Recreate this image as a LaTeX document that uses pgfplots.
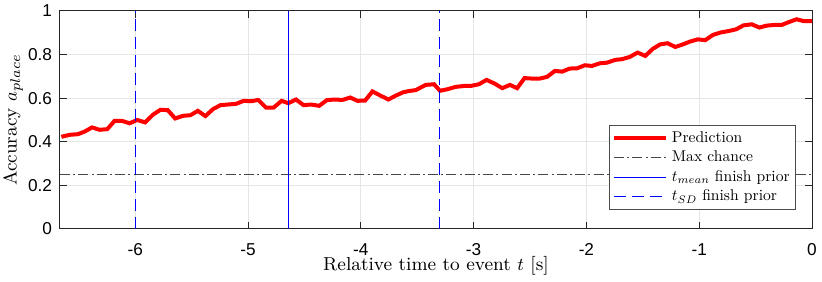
\documentclass[border=0pt]{standalone}
\usepackage{graphicx}
\usepackage{pgfplots}
\pgfplotsset{compat=1.18}
\usepackage{fontspec}
\newfontfamily\tickfont{Liberation Sans}
\definecolor{mblue}{RGB}{0,0,255}
\definecolor{mred}{RGB}{255,0,0}
\definecolor{mgray}{RGB}{70,70,70}
\newcommand{\legtxt}[1]{\scalebox{0.78}{#1}}
\pgfplotstableread{
t v
-6.655 0.423
-6.581 0.432
-6.507 0.435
-6.448 0.447
-6.383 0.466
-6.316 0.455
-6.248 0.458
-6.183 0.496
-6.118 0.496
-6.050 0.485
-5.982 0.500
-5.912 0.489
-5.844 0.524
-5.776 0.547
-5.711 0.545
-5.646 0.507
-5.578 0.519
-5.510 0.522
-5.445 0.542
-5.378 0.518
-5.310 0.550
-5.245 0.568
-5.180 0.571
-5.106 0.574
-5.038 0.588
-4.973 0.586
-4.909 0.592
-4.841 0.557
-4.773 0.557
-4.702 0.588
-4.643 0.577
-4.575 0.594
-4.507 0.568
-4.442 0.571
-4.369 0.565
-4.301 0.591
-4.236 0.594
-4.162 0.592
-4.094 0.603
-4.030 0.588
-3.962 0.589
-3.897 0.631
-3.823 0.611
-3.755 0.594
-3.690 0.612
-3.625 0.627
-3.572 0.633
-3.513 0.637
-3.425 0.661
-3.351 0.664
-3.298 0.634
-3.233 0.641
-3.159 0.652
-3.086 0.656
-3.027 0.656
-2.953 0.664
-2.885 0.684
-2.814 0.667
-2.746 0.646
-2.678 0.661
-2.614 0.646
-2.549 0.692
-2.481 0.690
-2.413 0.690
-2.348 0.698
-2.280 0.725
-2.215 0.722
-2.148 0.736
-2.083 0.737
-2.015 0.751
-1.950 0.748
-1.882 0.760
-1.817 0.763
-1.743 0.776
-1.684 0.779
-1.617 0.789
-1.546 0.809
-1.478 0.794
-1.410 0.827
-1.345 0.847
-1.280 0.852
-1.212 0.835
-1.144 0.847
-1.080 0.860
-1.012 0.870
-0.947 0.866
-0.879 0.890
-0.814 0.901
-0.740 0.908
-0.673 0.916
-0.608 0.934
-0.534 0.939
-0.466 0.924
-0.401 0.933
-0.333 0.936
-0.268 0.936
-0.201 0.950
-0.136 0.962
-0.077 0.954
0.000 0.954
}\pred
\begin{document}
\begin{tikzpicture}
\begin{axis}[
  scale only axis,
  width=376pt, height=109pt,
  xmin=-6.667, xmax=0, ymin=0, ymax=1,
  xtick={-6,-5,-4,-3,-2,-1,0},
  ytick={0,0.2,0.4,0.6,0.8,1},
  /pgf/number format/assume math mode=true,
  ticklabel style={font=\tickfont\fontsize{8.6}{10}\selectfont},
  xticklabel style={yshift=-3.6pt},
  yticklabel style={xshift=-0.5pt},
  tick align=inside,
  major tick length=3.5pt,
  tick style={black!85, line width=0.5pt},
  axis line style={black!85, line width=0.5pt},
  grid=major,
  major grid style={gray!20, line width=0.5pt},
  xlabel={Relative time to event $t$ [s]},
  ylabel={Accuracy $a_{place}$},
  label style={font=\fontsize{9.4}{11}\selectfont},
  xlabel style={at={(axis description cs:0.5,0)}, anchor=center, yshift=-18.6pt},
  ylabel style={at={(axis description cs:-0.0625,0.5)}, anchor=center},
  legend style={at={(0.979,0.087)}, anchor=south east,
    draw=black!70, line width=0.5pt, fill=white,
    inner xsep=1pt, inner ysep=1.5pt,
    nodes={inner xsep=2pt, inner ysep=1.4pt},
    row sep=0pt, cells={anchor=west}},
]
\coordinate (bl) at (rel axis cs:0,0);
\coordinate (tr) at (rel axis cs:1,1);
\addplot[mred, line width=2pt,
  legend image code/.code={\draw[mred, line width=2pt] (0pt,0pt) -- (26pt,0pt);}] table[x=t, y=v] {\pred};
\addlegendentry{\legtxt{Prediction}}
\addplot[mgray, line width=0.6pt, dash pattern=on 5pt off 1.6pt on 1pt off 1.6pt,
  legend image code/.code={\draw[mgray, line width=0.6pt, dash pattern=on 5pt off 1.6pt on 1pt off 1.6pt] (0pt,0pt) -- (26pt,0pt);}] coordinates {(-6.667,0.25) (0,0.25)};
\addlegendentry{\legtxt{Max chance}}
\addplot[mblue, line width=0.5pt,
  legend image code/.code={\draw[mblue, line width=0.5pt] (0pt,0pt) -- (26pt,0pt);}] coordinates {(-4.645,0) (-4.645,1)};
\addlegendentry{\legtxt{$t_{mean}$ finish prior}}
\addplot[mblue, line width=0.5pt, dash pattern=on 6pt off 3pt,
  legend image code/.code={\draw[mblue, line width=0.5pt, dash pattern=on 6pt off 3pt] (0pt,0pt) -- (26pt,0pt);}] coordinates {(-6,0) (-6,1)};
\addlegendentry{\legtxt{$t_{SD}$ finish prior}}
\addplot[mblue, line width=0.5pt, dash pattern=on 6pt off 3pt, forget plot] coordinates {(-3.3,0) (-3.3,1)};
\end{axis}
\pgfresetboundingbox
\path[use as bounding box] ([xshift=-30pt,yshift=-26.5pt]bl) rectangle ([xshift=5pt,yshift=5.5pt]tr);
\end{tikzpicture}
\end{document}
